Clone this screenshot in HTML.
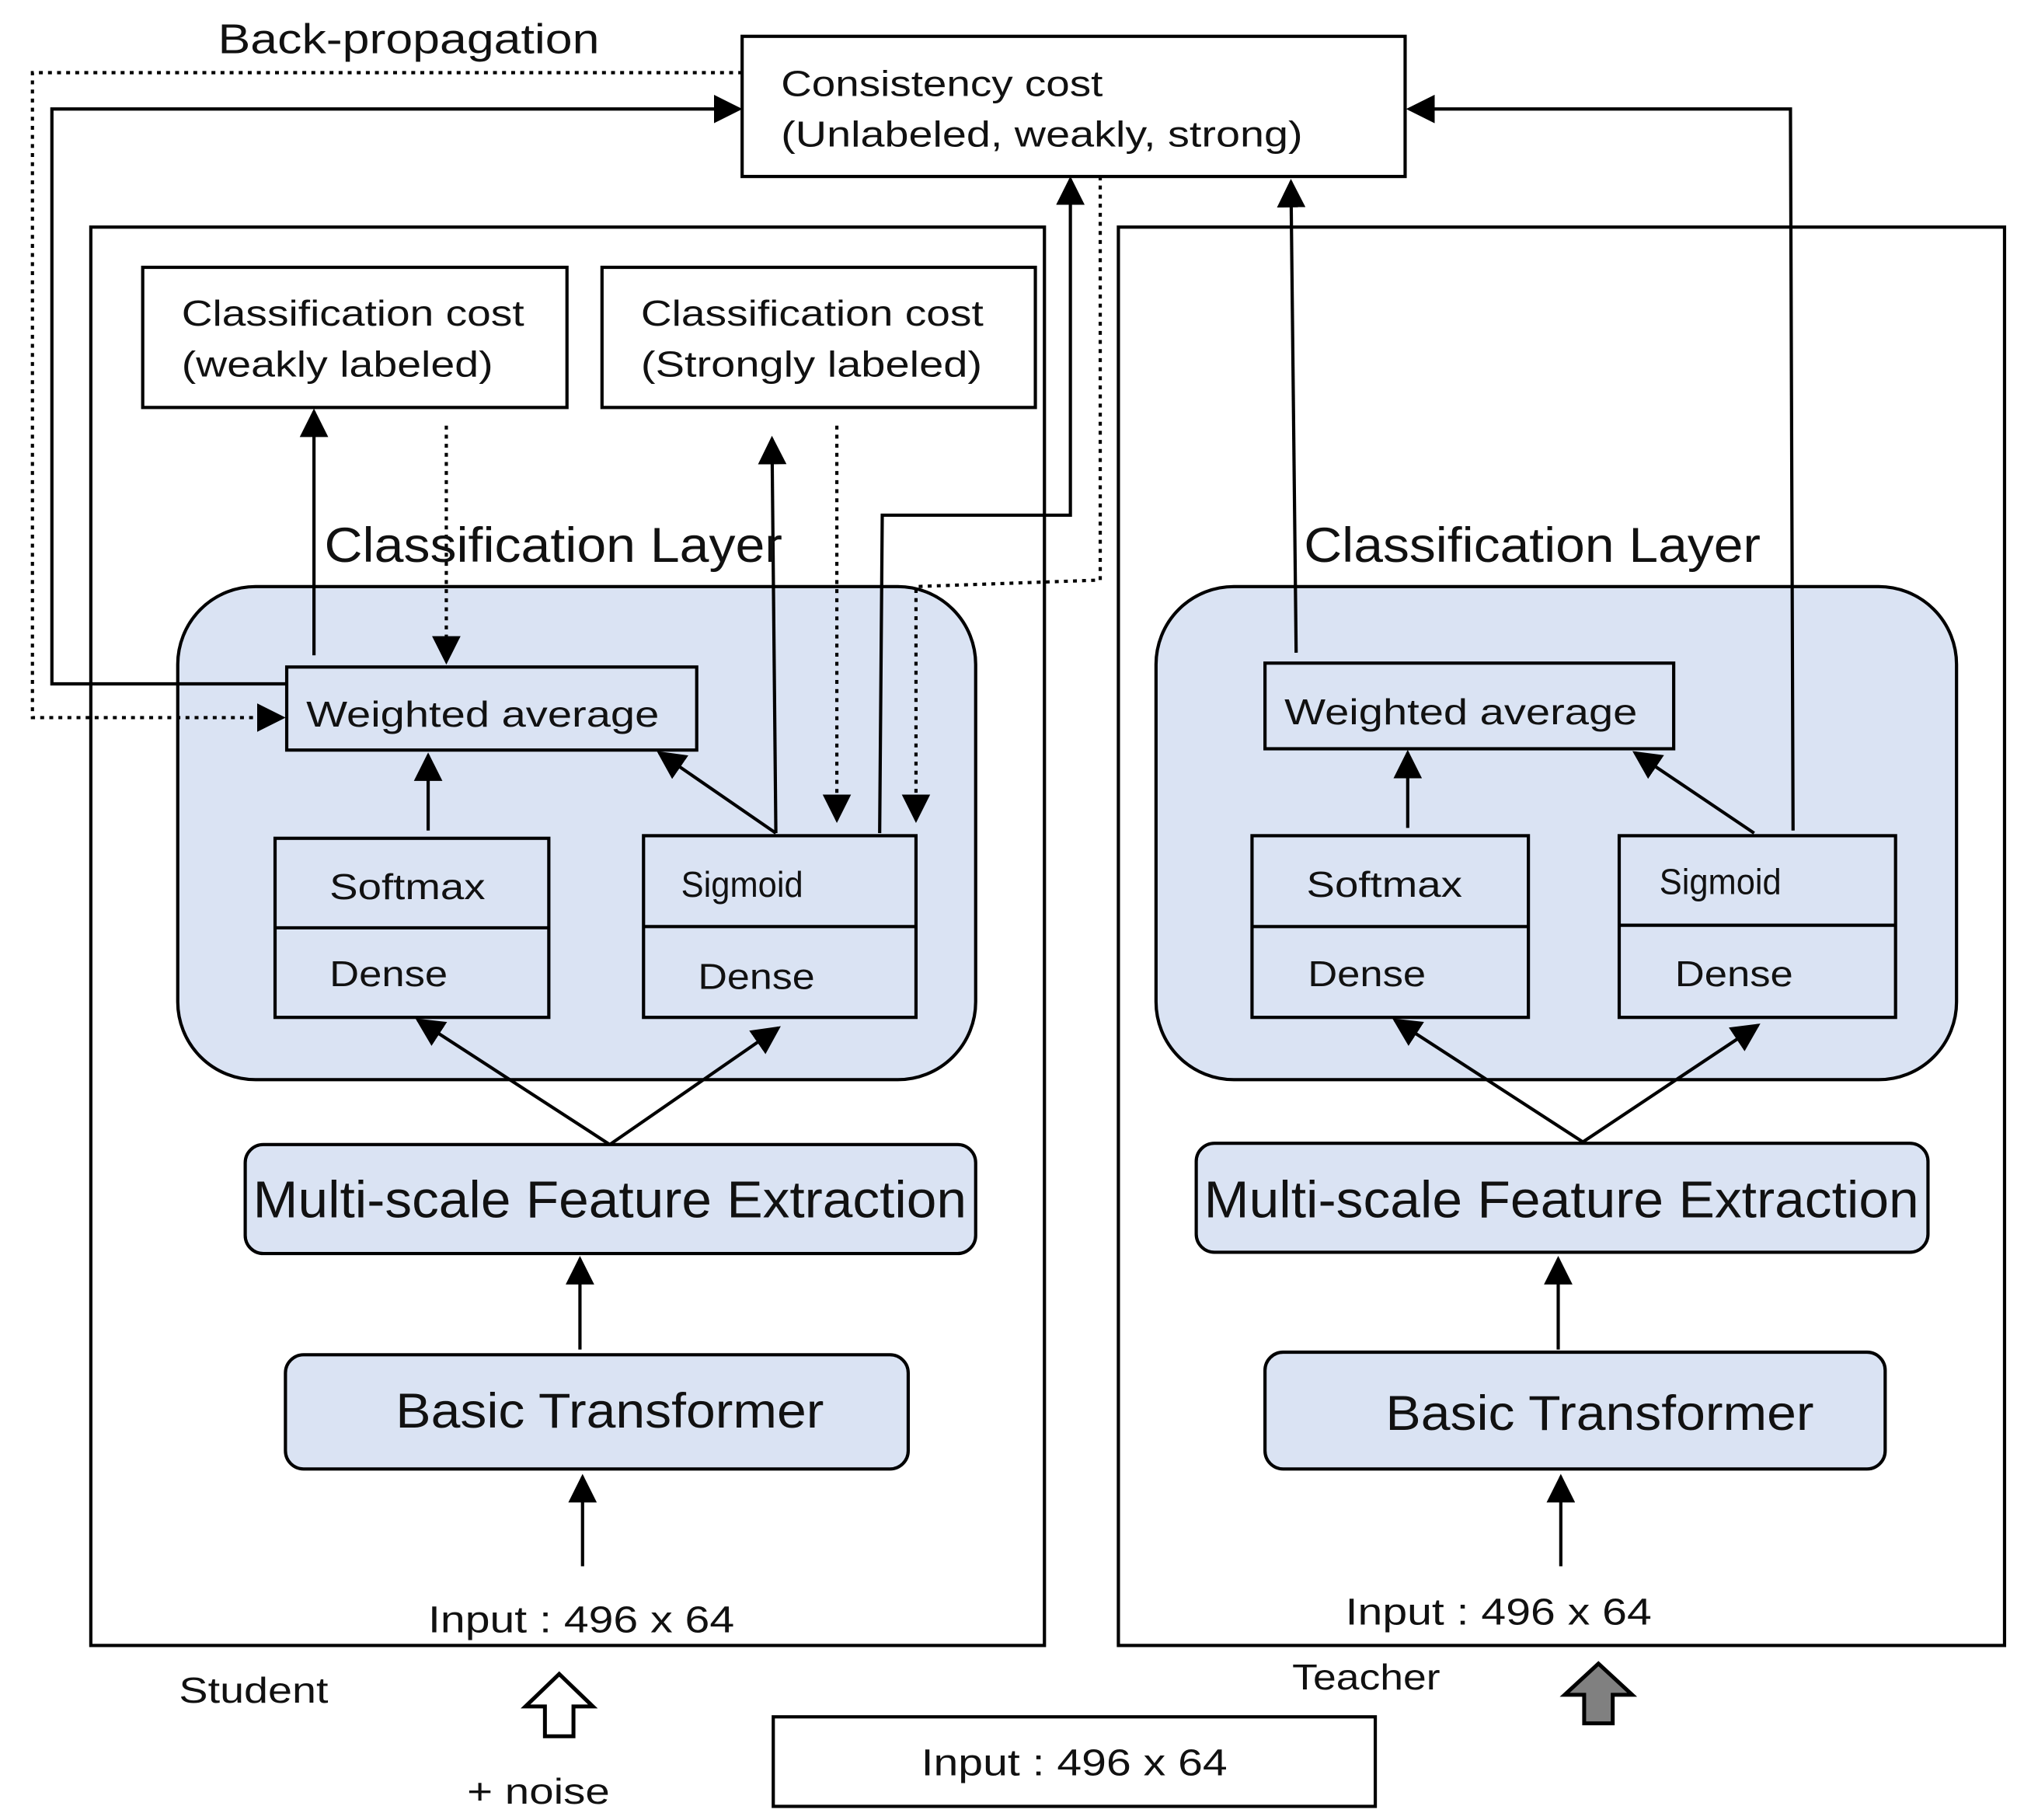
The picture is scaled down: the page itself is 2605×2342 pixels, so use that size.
<!DOCTYPE html>
<html><head><meta charset="utf-8"><style>
html,body{margin:0;padding:0;background:#fff;}
svg{display:block;}
text{font-family:"Liberation Sans","Noto Sans CJK KR",sans-serif;fill:#111;}
</style></head><body>
<svg width="2605" height="2342" viewBox="0 0 1560 1402.5" preserveAspectRatio="none" xmlns="http://www.w3.org/2000/svg">
<defs>
<marker id="b" viewBox="0 0 10 10" refX="9" refY="5" markerWidth="22" markerHeight="22" orient="auto" markerUnits="userSpaceOnUse">
<path d="M0,0 L10,5 L0,10 z" fill="#000"/></marker>
</defs>
<g fill="none" stroke="#000" stroke-width="2.5">
<rect x="572" y="28" width="511" height="108"/>
<rect x="70" y="175" width="735" height="1093"/>
<rect x="862" y="175" width="683" height="1093"/>
<rect x="110" y="206" width="327" height="108"/>
<rect x="464" y="206" width="334" height="108"/>
<rect x="596" y="1323" width="464" height="69"/>
<rect x="137" y="452" width="615" height="380" rx="60" fill="#dae3f3"/>
<rect x="221" y="514" width="316" height="64" fill="#dae3f3"/>
<rect x="212" y="646" width="211" height="138" fill="#dae3f3"/><line x1="212" y1="715" x2="423" y2="715"/>
<rect x="496" y="644" width="210" height="140" fill="#dae3f3"/><line x1="496" y1="714" x2="706" y2="714"/>
<rect x="189" y="882" width="563" height="84" rx="14" fill="#dae3f3"/>
<rect x="220" y="1044" width="480" height="88" rx="14" fill="#dae3f3"/>
<rect x="891" y="452" width="617" height="380" rx="60" fill="#dae3f3"/>
<rect x="975" y="511" width="315" height="66" fill="#dae3f3"/>
<rect x="965" y="644" width="213" height="140" fill="#dae3f3"/><line x1="965" y1="714" x2="1178" y2="714"/>
<rect x="1248" y="644" width="213" height="140" fill="#dae3f3"/><line x1="1248" y1="713" x2="1461" y2="713"/>
<rect x="922" y="881" width="564" height="84" rx="14" fill="#dae3f3"/>
<rect x="975" y="1042" width="478" height="90" rx="14" fill="#dae3f3"/>
</g>
<g fill="none" stroke="#000" stroke-width="2.5" marker-end="url(#b)">
<line x1="242" y1="505" x2="242" y2="317"/>
<line x1="330" y1="640" x2="330" y2="582"/>
<line x1="598" y1="642" x2="508" y2="580"/>
<line x1="598" y1="642" x2="595" y2="338"/>
<polyline points="678,642 680,397 825,397 825,138"/>
<polyline points="221,527 40,527 40,84 570,84"/>
<line x1="470" y1="882" x2="322" y2="786"/>
<line x1="470" y1="882" x2="600" y2="792"/>
<line x1="447" y1="1040" x2="447" y2="970"/>
<line x1="449" y1="1207" x2="449" y2="1138"/>
<line x1="999" y1="503" x2="995" y2="140"/>
<polyline points="1382,640 1380,84 1086,84"/>
<line x1="1085" y1="638" x2="1085" y2="580"/>
<line x1="1352" y1="642" x2="1260" y2="580"/>
<line x1="1220" y1="880" x2="1075" y2="786"/>
<line x1="1220" y1="880" x2="1355" y2="790"/>
<line x1="1201" y1="1040" x2="1201" y2="970"/>
<line x1="1203" y1="1207" x2="1203" y2="1138"/>
</g>
<g fill="none" stroke="#000" stroke-width="2.5" stroke-dasharray="3,4" marker-end="url(#b)">
<line x1="344" y1="328" x2="344" y2="510"/>
<line x1="645" y1="328" x2="645" y2="632"/>
<polyline points="848,136 848,447 706,452 706,632"/>
<polyline points="572,56 25,56 25,553 218,553"/>
</g>
<path d="M420,1338 L420,1315 L405,1315 L431,1290 L457,1315 L442,1315 L442,1338 Z" fill="#fff" stroke="#000" stroke-width="3"/>
<path d="M1221,1328 L1221,1306 L1206,1306 L1232,1282 L1258,1306 L1243,1306 L1243,1328 Z" fill="#808080" stroke="#000" stroke-width="3"/>
<g lengthAdjust="spacingAndGlyphs">
<text x="168" y="41" font-size="32" textLength="294" lengthAdjust="spacingAndGlyphs">Back-propagation</text>
<text x="602" y="74" font-size="28" textLength="248" lengthAdjust="spacingAndGlyphs">Consistency cost</text>
<text x="602" y="113" font-size="28" textLength="402" lengthAdjust="spacingAndGlyphs">(Unlabeled, weakly, strong)</text>
<text x="140" y="251" font-size="28" textLength="264" lengthAdjust="spacingAndGlyphs">Classification cost</text>
<text x="140" y="290" font-size="28" textLength="240" lengthAdjust="spacingAndGlyphs">(weakly labeled)</text>
<text x="494" y="251" font-size="28" textLength="264" lengthAdjust="spacingAndGlyphs">Classification cost</text>
<text x="494" y="290" font-size="28" textLength="263" lengthAdjust="spacingAndGlyphs">(Strongly labeled)</text>
<text x="250" y="433" font-size="38" textLength="353" lengthAdjust="spacingAndGlyphs">Classification Layer</text>
<text x="1005" y="433" font-size="38" textLength="352" lengthAdjust="spacingAndGlyphs">Classification Layer</text>
<text x="236" y="560" font-size="28" textLength="272" lengthAdjust="spacingAndGlyphs">Weighted average</text>
<text x="990" y="558" font-size="28" textLength="272" lengthAdjust="spacingAndGlyphs">Weighted average</text>
<text x="254" y="693" font-size="28" textLength="120" lengthAdjust="spacingAndGlyphs">Softmax</text>
<text x="254" y="760" font-size="28" textLength="91" lengthAdjust="spacingAndGlyphs">Dense</text>
<text x="525" y="691" font-size="28" textLength="94" lengthAdjust="spacingAndGlyphs">Sigmoid</text>
<text x="538" y="762" font-size="28" textLength="90" lengthAdjust="spacingAndGlyphs">Dense</text>
<text x="1007" y="691" font-size="28" textLength="120" lengthAdjust="spacingAndGlyphs">Softmax</text>
<text x="1008" y="760" font-size="28" textLength="91" lengthAdjust="spacingAndGlyphs">Dense</text>
<text x="1279" y="689" font-size="28" textLength="94" lengthAdjust="spacingAndGlyphs">Sigmoid</text>
<text x="1291" y="760" font-size="28" textLength="91" lengthAdjust="spacingAndGlyphs">Dense</text>
<text x="195" y="938" font-size="40" textLength="550" lengthAdjust="spacingAndGlyphs">Multi-scale Feature Extraction</text>
<text x="928" y="938" font-size="40" textLength="551" lengthAdjust="spacingAndGlyphs">Multi-scale Feature Extraction</text>
<text x="305" y="1100" font-size="38" textLength="330" lengthAdjust="spacingAndGlyphs">Basic Transformer</text>
<text x="1068" y="1102" font-size="38" textLength="330" lengthAdjust="spacingAndGlyphs">Basic Transformer</text>
<text x="330" y="1258" font-size="29" textLength="236" lengthAdjust="spacingAndGlyphs">Input : 496 x 64</text>
<text x="1037" y="1252" font-size="29" textLength="236" lengthAdjust="spacingAndGlyphs">Input : 496 x 64</text>
<text x="710" y="1368" font-size="29" textLength="236" lengthAdjust="spacingAndGlyphs">Input : 496 x 64</text>
<text x="138" y="1312" font-size="28" textLength="115" lengthAdjust="spacingAndGlyphs">Student</text>
<text x="996" y="1302" font-size="28" textLength="114" lengthAdjust="spacingAndGlyphs">Teacher</text>
<text x="360" y="1390" font-size="28" textLength="110" lengthAdjust="spacingAndGlyphs">+ noise</text>
</g>
</svg>
</body></html>
